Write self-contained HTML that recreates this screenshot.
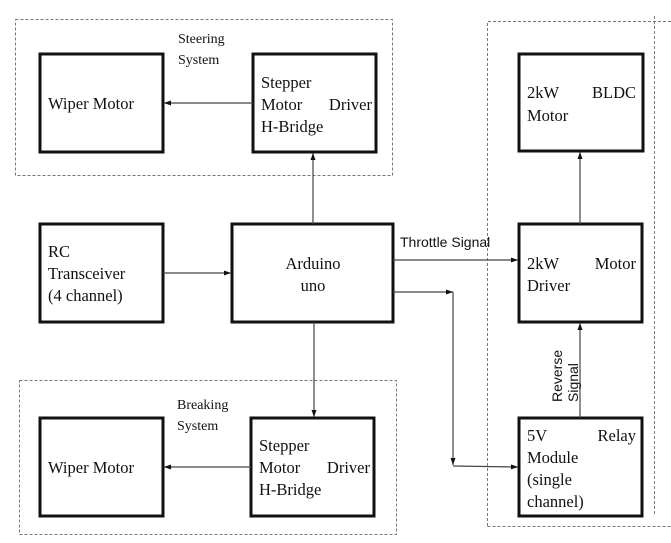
<!DOCTYPE html>
<html><head><meta charset="utf-8"><style>
html,body{margin:0;padding:0;background:#fff;}
svg{display:block;}
.s{font-family:"Liberation Serif",serif;font-size:16.5px;fill:#111;}
.ss{font-family:"Liberation Serif",serif;font-size:14px;fill:#111;}
.sa{font-family:"Liberation Sans",sans-serif;font-size:14px;fill:#111;}
.b{fill:#fff;stroke:#111;stroke-width:3;}
.d{fill:none;stroke:#777;stroke-width:1;stroke-dasharray:3,2;}
.l{stroke:#444;stroke-width:1.2;fill:none;}
</style></head><body>
<svg width="671" height="543" viewBox="0 0 671 543" xmlns="http://www.w3.org/2000/svg">
<defs><marker id="a" markerWidth="8" markerHeight="8" refX="7" refY="4" orient="auto" markerUnits="userSpaceOnUse"><path d="M0,1.5 L7,4 L0,6.5z" fill="#111"/></marker></defs>
<rect class="d" x="15.5" y="19.5" width="377" height="156"/>
<rect class="d" x="19.5" y="380.5" width="377" height="154"/>
<path class="d" d="M487.5,526 V21.5 H671 M654.5,16 V515 M487.5,526.5 H671"/>
<rect class="b" x="40" y="54" width="123" height="98"/>
<rect class="b" x="253" y="54" width="123" height="98"/>
<rect class="b" x="519" y="54" width="124" height="97"/>
<rect class="b" x="40" y="224" width="123" height="98"/>
<rect class="b" x="232" y="224" width="161" height="98"/>
<rect class="b" x="519" y="224" width="123" height="98"/>
<rect class="b" x="40" y="418" width="123" height="98"/>
<rect class="b" x="251" y="418" width="123" height="98"/>
<rect class="b" x="519" y="418" width="123" height="98"/>
<line class="l" x1="253" y1="103" x2="164" y2="103" marker-end="url(#a)"/>
<line class="l" x1="313" y1="224" x2="313" y2="153" marker-end="url(#a)"/>
<line class="l" x1="163" y1="273" x2="231" y2="273" marker-end="url(#a)"/>
<line class="l" x1="314" y1="322" x2="314" y2="417" marker-end="url(#a)"/>
<line class="l" x1="251" y1="467" x2="164" y2="467" marker-end="url(#a)"/>
<line class="l" x1="393" y1="260" x2="518" y2="260" marker-end="url(#a)"/>
<line class="l" x1="393" y1="292" x2="453" y2="292" marker-end="url(#a)"/>
<line class="l" x1="453" y1="292" x2="453" y2="465" marker-end="url(#a)"/>
<line class="l" x1="453" y1="466" x2="518" y2="467" marker-end="url(#a)"/>
<line class="l" x1="580" y1="418" x2="580" y2="323" marker-end="url(#a)"/>
<line class="l" x1="580" y1="224" x2="580" y2="152" marker-end="url(#a)"/>
<text class="ss" x="178" y="43">Steering</text>
<text class="ss" x="178" y="64">System</text>
<text class="ss" x="177" y="409">Breaking</text>
<text class="ss" x="177" y="430">System</text>
<text class="s" x="48" y="109">Wiper Motor</text>
<text class="s" x="261" y="88">Stepper</text>
<text class="s" x="261" y="110">Motor</text><text class="s" x="372" y="110" text-anchor="end">Driver</text>
<text class="s" x="261" y="132">H-Bridge</text>
<text class="s" x="527" y="98">2kW</text><text class="s" x="636" y="98" text-anchor="end">BLDC</text>
<text class="s" x="527" y="121">Motor</text>
<text class="s" x="48" y="257">RC</text>
<text class="s" x="48" y="279">Transceiver</text>
<text class="s" x="48" y="301">(4 channel)</text>
<text class="s" x="313" y="269" text-anchor="middle">Arduino</text>
<text class="s" x="313" y="291" text-anchor="middle">uno</text>
<text class="sa" x="400" y="247">Throttle Signal</text>
<text class="s" x="527" y="269">2kW</text><text class="s" x="636" y="269" text-anchor="end">Motor</text>
<text class="s" x="527" y="291">Driver</text>
<text class="s" x="48" y="473">Wiper Motor</text>
<text class="s" x="259" y="451">Stepper</text>
<text class="s" x="259" y="473">Motor</text><text class="s" x="370" y="473" text-anchor="end">Driver</text>
<text class="s" x="259" y="495">H-Bridge</text>
<text class="s" x="527" y="441">5V</text><text class="s" x="636" y="441" text-anchor="end">Relay</text>
<text class="s" x="527" y="463">Module</text>
<text class="s" x="527" y="485">(single</text>
<text class="s" x="527" y="507">channel)</text>
<text class="sa" transform="translate(562,402) rotate(-90)">Reverse</text>
<text class="sa" transform="translate(578,402) rotate(-90)">Signal</text>
</svg>
</body></html>
